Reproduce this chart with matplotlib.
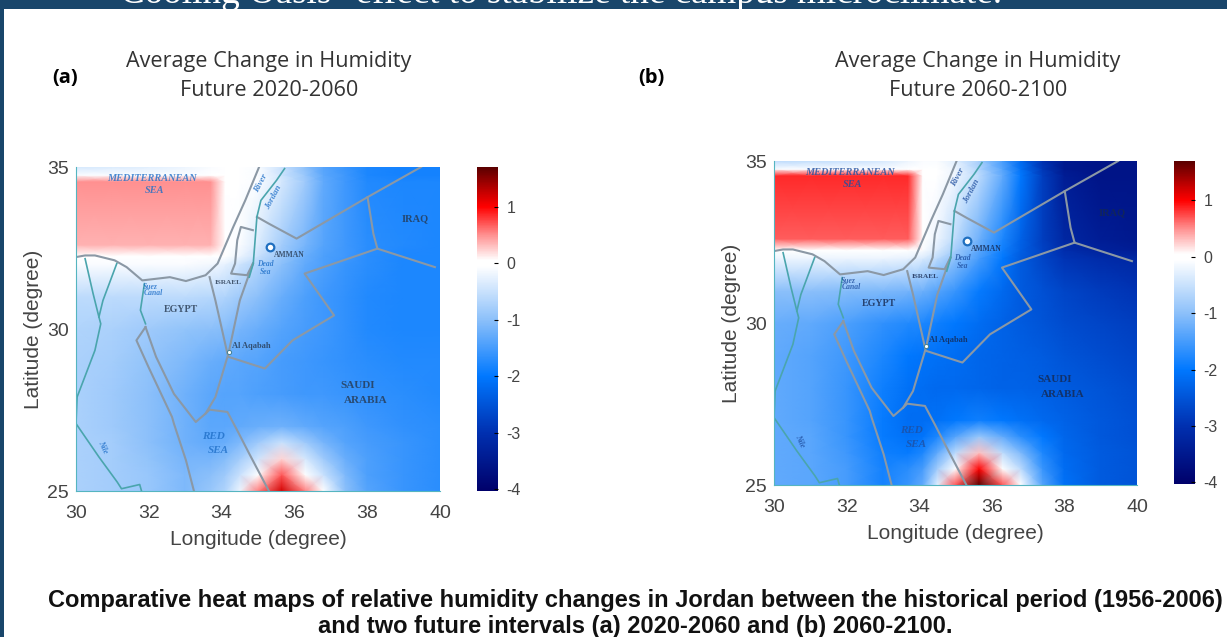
import matplotlib
matplotlib.use('Agg')
import matplotlib.pyplot as pyplot
from matplotlib.colors import LinearSegmentedColormap, Normalize
from matplotlib.patches import Rectangle
import numpy

W, H = 1227.0, 637.0

lon = [30, 31, 32, 33, 33.7, 34.1, 34.5, 35, 35.65, 36.3, 36.8, 37.4, 38, 39, 40]
lat = [25, 25.5, 26, 26.5, 27, 28, 29, 30, 31, 32, 32.25, 32.6, 34.55, 34.75, 35]

# humidity change, south to north
change_a = [
    [-0.75, -0.8, -0.9, -1.1, -0.9, -0.7, -0.2, 0.55, 1.2, 0.55, -0.05, -1.0, -1.4, -1.6, -1.7],
    [-0.75, -0.8, -0.9, -1.1, -1.0, -0.85, -0.5, -0.02, 0.7, 0.0, -0.5, -1.1, -1.45, -1.6, -1.7],
    [-0.75, -0.8, -0.95, -1.15, -1.15, -1.05, -0.8, -0.45, 0.22, -0.4, -0.85, -1.25, -1.45, -1.6, -1.7],
    [-0.75, -0.8, -1.0, -1.2, -1.3, -1.25, -1.1, -0.85, -0.5, -0.85, -1.15, -1.4, -1.5, -1.6, -1.7],
    [-0.75, -0.85, -1.0, -1.2, -1.35, -1.35, -1.3, -1.25, -1.2, -1.3, -1.4, -1.45, -1.55, -1.65, -1.7],
    [-0.75, -0.85, -1.0, -1.2, -1.35, -1.4, -1.4, -1.45, -1.5, -1.55, -1.55, -1.6, -1.65, -1.7, -1.75],
    [-0.75, -0.8, -0.95, -1.1, -1.25, -1.3, -1.35, -1.4, -1.5, -1.55, -1.6, -1.65, -1.7, -1.75, -1.75],
    [-0.7, -0.75, -0.85, -0.95, -1.0, -1.05, -1.15, -1.25, -1.4, -1.5, -1.55, -1.65, -1.75, -1.8, -1.8],
    [-0.6, -0.6, -0.6, -0.6, -0.65, -0.7, -0.85, -1.0, -1.25, -1.45, -1.55, -1.65, -1.75, -1.8, -1.8],
    [-0.1, -0.1, -0.1, -0.1, -0.15, -0.25, -0.45, -0.7, -1.0, -1.3, -1.45, -1.6, -1.7, -1.8, -1.8],
    [0.05, 0.05, 0.05, 0.05, 0.05, -0.05, -0.2, -0.5, -0.9, -1.25, -1.45, -1.55, -1.7, -1.8, -1.8],
    [0.36, 0.36, 0.36, 0.36, 0.36, -0.02, -0.1, -0.35, -0.8, -1.15, -1.4, -1.55, -1.7, -1.75, -1.8],
    [0.5, 0.5, 0.5, 0.5, 0.5, 0.0, 0.0, -0.1, -0.4, -0.85, -1.3, -1.55, -1.75, -1.8, -1.8],
    [-0.1, -0.1, -0.1, -0.1, -0.05, 0.0, 0.0, -0.1, -0.45, -0.9, -1.35, -1.55, -1.8, -1.85, -1.85],
    [-0.4, -0.35, -0.3, -0.2, -0.1, -0.05, 0.0, -0.1, -0.5, -1.0, -1.4, -1.6, -1.8, -1.85, -1.85],
]
change_b = [
    [-1.3, -1.35, -1.5, -1.85, -1.6, -1.3, -0.3, 0.7, 1.7, 0.7, 0.0, -1.4, -2.1, -2.4, -2.5],
    [-1.3, -1.35, -1.5, -1.85, -1.7, -1.5, -0.8, 0.0, 1.0, 0.0, -0.6, -1.6, -2.15, -2.4, -2.5],
    [-1.3, -1.35, -1.55, -1.9, -1.95, -1.8, -1.3, -0.6, 0.3, -0.6, -1.1, -1.8, -2.2, -2.4, -2.5],
    [-1.3, -1.35, -1.6, -1.95, -2.1, -2.05, -1.8, -1.4, -0.9, -1.3, -1.7, -2.0, -2.25, -2.45, -2.55],
    [-1.3, -1.4, -1.6, -1.95, -2.15, -2.15, -2.1, -2.0, -1.9, -2.0, -2.1, -2.2, -2.3, -2.45, -2.55],
    [-1.3, -1.4, -1.6, -1.9, -2.1, -2.15, -2.2, -2.2, -2.25, -2.3, -2.3, -2.35, -2.4, -2.5, -2.6],
    [-1.3, -1.4, -1.55, -1.8, -2.0, -2.05, -2.1, -2.15, -2.25, -2.3, -2.35, -2.4, -2.5, -2.6, -2.7],
    [-1.25, -1.3, -1.45, -1.65, -1.75, -1.8, -1.9, -2.0, -2.15, -2.3, -2.4, -2.5, -2.6, -2.7, -2.8],
    [-1.0, -1.0, -1.05, -1.1, -1.15, -1.2, -1.4, -1.6, -1.95, -2.2, -2.4, -2.55, -2.7, -2.85, -2.95],
    [-0.2, -0.2, -0.2, -0.2, -0.25, -0.35, -0.6, -1.0, -1.5, -2.0, -2.4, -2.7, -2.95, -3.1, -3.2],
    [0.05, 0.05, 0.05, 0.05, 0.05, -0.1, -0.35, -0.8, -1.35, -1.9, -2.35, -2.75, -3.05, -3.3, -3.4],
    [0.68, 0.68, 0.68, 0.68, 0.68, -0.05, -0.2, -0.6, -1.2, -1.8, -2.3, -2.8, -3.2, -3.4, -3.5],
    [0.85, 0.85, 0.85, 0.85, 0.85, 0.05, -0.05, -0.2, -0.6, -1.3, -2.0, -2.8, -3.4, -3.6, -3.6],
    [-0.1, -0.1, -0.1, -0.1, -0.05, 0.0, -0.05, -0.2, -0.7, -1.4, -2.1, -2.9, -3.5, -3.6, -3.6],
    [-0.6, -0.55, -0.5, -0.4, -0.2, -0.1, -0.1, -0.3, -0.8, -1.5, -2.2, -3.0, -3.5, -3.6, -3.6],
]

# map outlines as (lon, lat)
grey_lines = [
    [(30.0, 32.22), (30.25, 32.27), (30.52, 32.27), (31.06, 32.12), (31.39, 31.91), (31.82, 31.5), (32.58, 31.6),
     (33.02, 31.48), (33.56, 31.66), (33.89, 32.02), (34.32, 33.15), (34.65, 33.97), (35.03, 35.0)],
    [(34.86, 33.05), (34.53, 33.15), (34.43, 32.74), (34.37, 32.02), (34.26, 31.71), (34.7, 31.66), (34.86, 32.02)],
    [(34.97, 33.46), (35.3, 33.25), (36.06, 32.79), (38.01, 34.07), (39.48, 35.0)],
    [(38.01, 34.07), (38.17, 32.94), (38.28, 32.48), (39.86, 31.91)],
    [(38.28, 32.48), (36.28, 31.71), (37.09, 30.42), (35.95, 29.65), (35.19, 28.78), (34.19, 29.14)],
    [(33.67, 31.6), (33.83, 30.88), (34.16, 29.24)],
    [(34.86, 32.02), (34.5, 30.88), (34.19, 29.25), (33.83, 27.9), (33.56, 27.39), (33.29, 27.13),
     (32.69, 28.0), (32.2, 29.14), (31.91, 30.06)],
    [(31.91, 30.06), (31.66, 29.65), (31.99, 28.83), (32.64, 27.28), (32.69, 27.08), (33.02, 25.95), (33.24, 25.0)],
    [(33.56, 27.39), (33.67, 27.51), (34.16, 27.44), (34.43, 26.87), (34.76, 26.15), (35.3, 25.0)],
]
teal_lines = [
    [(35.73, 34.95), (35.51, 34.59), (35.08, 33.97), (34.97, 33.46), (34.87, 32.02), (34.76, 31.6)],
    [(31.91, 30.16), (31.77, 30.58), (31.88, 31.4)],
    [(30.25, 32.17), (30.47, 31.09), (30.63, 30.37), (30.68, 30.16), (30.52, 29.34), (30.03, 27.9), (30.0, 27.08),
     (30.63, 26.05), (31.13, 25.28), (31.25, 25.07), (31.75, 25.2), (31.8, 25.0)],
    [(31.12, 32.02), (30.74, 30.88), (30.63, 30.37)],
]

# (text, lon, lat, size, rotation, is water label)
map_labels = [
    ('MEDITERRANEAN', 32.1, 34.66, 7.4, 0, True), ('SEA', 32.17, 34.28, 7.4, 0, True),
    ('River', 35.08, 34.49, 6.5, 62, True), ('Jordan', 35.43, 34.07, 6.5, 62, True),
    ('Dead', 35.2, 32.0, 5.5, 0, True), ('Sea', 35.2, 31.76, 5.5, 0, True),
    ('Suez', 32.04, 31.3, 5.5, 0, True), ('Canal', 32.12, 31.1, 5.5, 0, True),
    ('RED', 33.78, 26.68, 8, 0, True), ('SEA', 33.91, 26.25, 8, 0, True),
    ('Nile', 30.72, 26.37, 5.5, -65, True),
    ('IRAQ', 39.32, 33.4, 7.5, 0, False), ('AMMAN', 35.86, 32.29, 5.5, 0, False),
    ('ISRAEL', 34.18, 31.45, 5.2, 0, False), ('EGYPT', 32.88, 30.6, 7.2, 0, False),
    ('Al Aqabah', 34.81, 29.46, 6, 0, False), ('SAUDI', 37.74, 28.27, 8, 0, False),
    ('ARABIA', 37.96, 27.78, 8, 0, False),
]

amman = (35.32, 32.53)
aqabah = (34.19, 29.28)

cbar_ticks = [1, 0, -1, -2, -3, -4]
vmin, vmax = -4.03, 1.7

pyplot.rcParams['axes.unicode_minus'] = False
pyplot.rcParams['font.family'] = ['Liberation Sans', 'DejaVu Sans']

stops = [(-4.03, '#00006a'), (-3, '#0030b0'), (-2, '#0078ff'), (-1, '#8cc0fa'), (-0.05, '#ffffff'),
         (0.05, '#ffffff'), (0.5, '#ff9090'), (1, '#ff0000'), (1.25, '#c80000'), (1.7, '#5a0000')]
cmap = LinearSegmentedColormap.from_list('humid', [((v - vmin)/(vmax - vmin), c) for v, c in stops], N=512)
norm = Normalize(vmin, vmax)


def pixelAxes(fig, x0, y0, x1, y1):
    return fig.add_axes([x0/W, 1 - y1/H, (x1 - x0)/W, (y1 - y0)/H])


def drawPanel(fig, box, cbox, field, label_color, water_color, line_color):
    ax = pixelAxes(fig, *box)
    X, Y = numpy.meshgrid(lon, lat)
    mesh = ax.pcolormesh(X, Y, numpy.array(field), cmap=cmap, norm=norm, shading='gouraud', rasterized=True)
    for line in grey_lines:
        pts = numpy.array(line)
        ax.plot(pts[:, 0], pts[:, 1], color=line_color, lw=1.5, solid_joinstyle='round')
    for line in teal_lines:
        pts = numpy.array(line)
        ax.plot(pts[:, 0], pts[:, 1], color='#4aa5ad', lw=1.2)
    for text, x, y, size, rot, water in map_labels:
        ax.text(x, y, text, fontsize=size, rotation=rot, ha='center', va='center',
                family='Liberation Serif', fontweight='bold', style='italic' if water else 'normal',
                color=water_color if water else label_color, alpha=0.8)
    ax.plot(amman[0], amman[1], 'o', ms=5.5, mfc='white', mec='#1f6fc0', mew=1.6)
    ax.plot(aqabah[0], aqabah[1], 'o', ms=3, mfc='white', mec='#3f7f90', mew=0.7)
    ax.set_xlim(30, 40)
    ax.set_ylim(25, 35)
    ax.set_xticks([30, 32, 34, 36, 38, 40])
    ax.set_yticks([25, 30, 35])
    ax.tick_params(axis='x', length=0, labelsize=14, labelcolor='#444444', pad=10)
    ax.tick_params(axis='y', length=0, labelsize=14, labelcolor='#444444', pad=5)
    for side in ['top', 'right']:
        ax.spines[side].set_visible(False)
    for side in ['left', 'bottom']:
        ax.spines[side].set_color('#55b5c0')
    ax.set_xlabel('Longitude (degree)', fontsize=15, color='#444444', labelpad=6)
    ax.set_ylabel('Latitude (degree)', fontsize=15, color='#444444', labelpad=3)

    cax = pixelAxes(fig, *cbox)
    cb = fig.colorbar(mesh, cax=cax, ticks=cbar_ticks)
    cb.outline.set_visible(False)
    cb.ax.tick_params(direction='in', length=3, width=0.8, labelsize=11.5, labelcolor='#444444', pad=6)
    return ax


fig = pyplot.figure(figsize=(W/100, H/100), dpi=100)
fig.patch.set_facecolor('white')

# slide frame
bar_color = '#19466b'
fig.add_artist(Rectangle((0, 1 - 9/H), 1, 9/H, transform=fig.transFigure, color=bar_color, lw=0))
fig.add_artist(Rectangle((0, 0), 4/W, 1, transform=fig.transFigure, color=bar_color, lw=0))
slide = fig.text(120/W, 1 - 3/H, 'Cooling Oasis" effect to stabilize the campus microclimate.', fontsize=26.7,
                 family='Liberation Serif', color='white', ha='left', va='baseline')
slide.set_clip_path(Rectangle((0, H - 10), W, 10))
slide.set_clip_on(True)

drawPanel(fig, (76, 167, 440, 491), (477, 167, 498, 491), change_a, '#26384f', '#1f6fc8', '#8b98a5')
drawPanel(fig, (774, 161, 1137, 485), (1174, 161, 1195, 484), change_b, '#16284f', '#1f4fa0', '#8b98a5')

title_font = ['Open Sans', 'DejaVu Sans']
fig.text(269/W, 1 - 61/H, 'Average Change in Humidity', fontsize=15.6, family=title_font, color='#333333', ha='center', va='center')
fig.text(269/W, 1 - 91/H, 'Future 2020-2060', fontsize=15.6, family=title_font, color='#333333', ha='center', va='center')
fig.text(978/W, 1 - 61/H, 'Average Change in Humidity', fontsize=15.6, family=title_font, color='#333333', ha='center', va='center')
fig.text(978/W, 1 - 91/H, 'Future 2060-2100', fontsize=15.6, family=title_font, color='#333333', ha='center', va='center')
fig.text(65/W, 1 - 78/H, '(a)', fontsize=14.5, family=title_font, fontweight='bold', color='black', ha='center', va='center')
fig.text(651/W, 1 - 78/H, '(b)', fontsize=14.5, family=title_font, fontweight='bold', color='black', ha='center', va='center')

fig.text(635/W, 1 - 601/H, 'Comparative heat maps of relative humidity changes in Jordan between the historical period (1956-2006)',
         fontsize=17.05, fontweight='bold', color='#111111', ha='center', va='center')
fig.text(635/W, 1 - 627/H, 'and two future intervals (a) 2020-2060 and (b) 2060-2100.',
         fontsize=17.05, fontweight='bold', color='#111111', ha='center', va='center')

fig.savefig('out.png', dpi=100)
